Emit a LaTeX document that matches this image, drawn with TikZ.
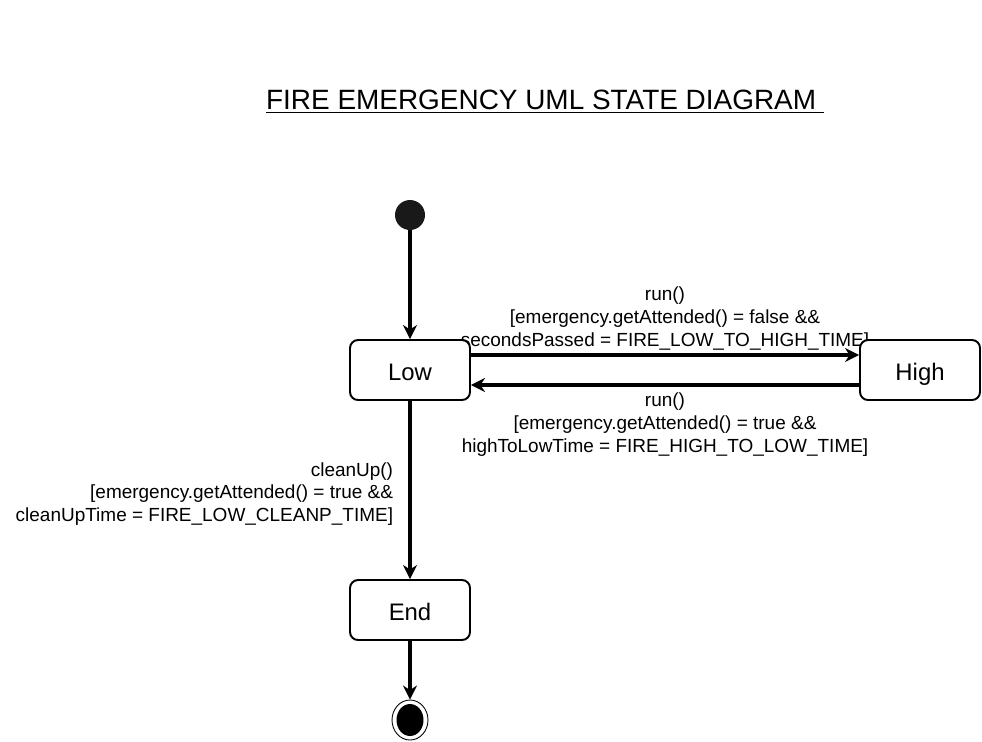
\documentclass[tikz,border=0pt]{standalone}
\usepackage{fontspec}
\setmainfont{Liberation Sans}
\usetikzlibrary{arrows.meta,shapes.geometric,backgrounds}

\tikzset{
    state/.style={draw, rounded corners=0.16cm, fill=white, line width=1.1pt,
        minimum width=2.4cm, minimum height=1.2cm, text height=14.4pt, text depth=2pt,
        font=\fontsize{13.6}{16}\selectfont},
    trans/.style={-{Stealth[length=8pt,width=8pt]}, line width=2.2pt},
    guard/.style={font=\fontsize{10.8}{13}\selectfont, align=center, inner sep=0pt},
}

\begin{document}
\begin{tikzpicture}[x=0.02cm, y=-0.02cm]
        \useasboundingbox (0,0) rectangle (982,741);
        % title
        \node[font=\fontsize{15.9}{19}\selectfont] (title) at (545,102)
            {\underline{FIRE EMERGENCY UML STATE DIAGRAM\ }};
        % states
        \node[circle, fill=black!90, minimum size=0.6cm, inner sep=0pt] (init) at (410,215) {};
        \node[state] (low)  at (410,370) {Low};
        \node[state] (high) at (920,370) {High};
        \node[state] (end)  at (410,610) {End};
        \node[ellipse, draw, line width=0.5pt, minimum width=0.72cm, minimum height=0.8cm,
            inner sep=0pt] (final) at (410,720) {};
        \node[ellipse, fill=black, minimum width=0.54cm, minimum height=0.64cm,
            inner sep=0pt] (finaldot) at (410,720) {};
        % transitions
        \begin{scope}[on background layer]
            \draw[trans] (init) -- (low);
            \draw[trans] ([yshift=0.3cm]low.east) --
                node[guard, above=0.06cm] {run()\\{}[emergency.getAttended() = false \&\&\\secondsPassed = FIRE\_LOW\_TO\_HIGH\_TIME]}
                ([yshift=0.3cm]high.west);
            \draw[trans] ([yshift=-0.3cm]high.west) --
                node[guard, below=0.12cm] {run()\\{}[emergency.getAttended() = true \&\&\\highToLowTime = FIRE\_HIGH\_TO\_LOW\_TIME]}
                ([yshift=-0.3cm]low.east);
            \draw[trans] (low) --
                node[guard, align=right, left=0.3cm, yshift=-0.08cm] {cleanUp()\\{}[emergency.getAttended() = true \&\&\\cleanUpTime = FIRE\_LOW\_CLEANP\_TIME]}
                (end);
            \draw[trans] (end) -- (final);
        \end{scope}
\end{tikzpicture}
\end{document}
